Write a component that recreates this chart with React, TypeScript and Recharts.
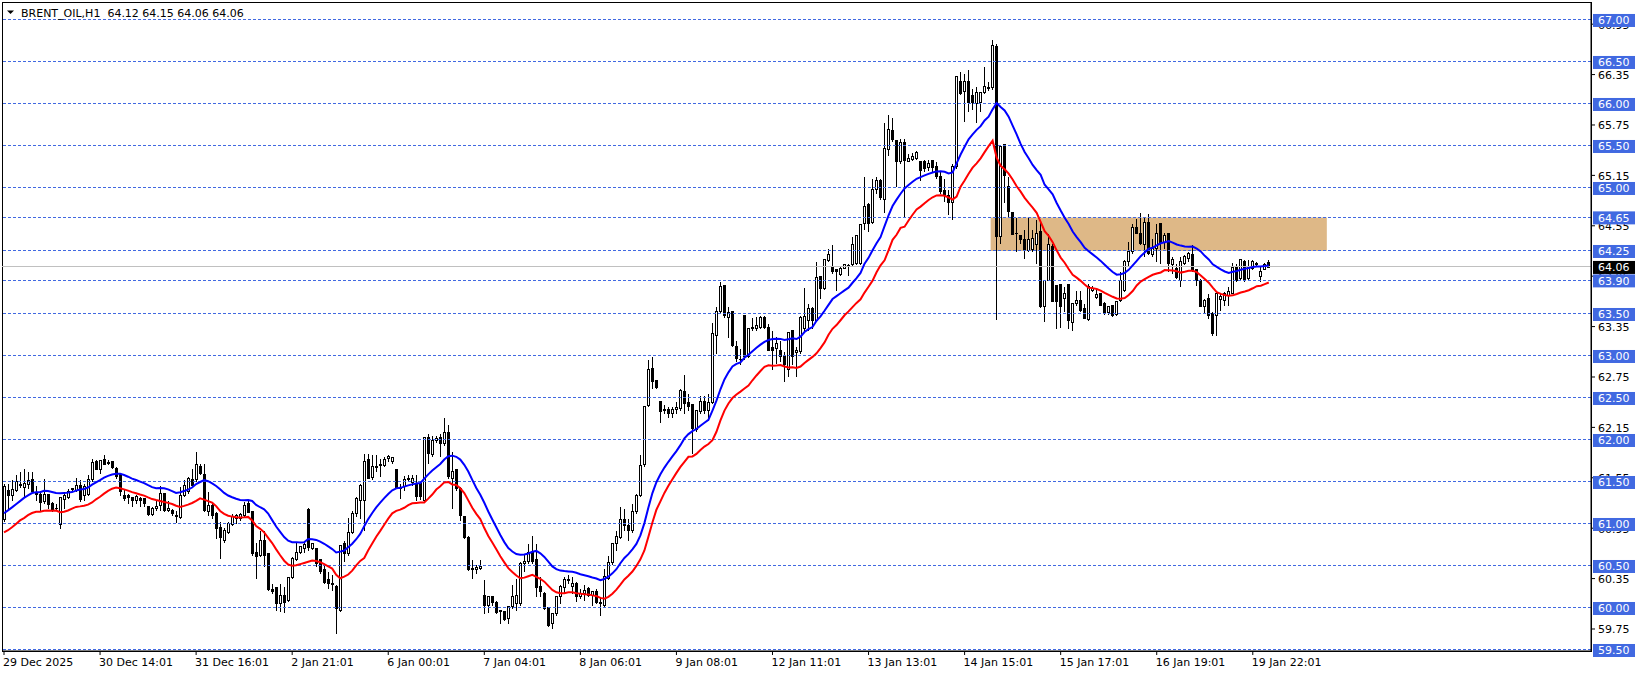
import React from 'react'
import { ComposedChart, Bar, Line, XAxis, YAxis, ReferenceLine, ReferenceArea } from 'recharts'

// hourly candles (oldest first)
const opens = [
  61.06, 61.41, 61.34, 61.40, 61.48, 61.44, 61.48, 61.53, 61.38, 61.36,
  61.27, 61.36, 61.25, 61.19, 61.00, 61.30, 61.32, 61.42, 61.41, 61.46,
  61.35, 61.36, 61.53, 61.75, 61.66, 61.77, 61.74, 61.75, 61.67, 61.59,
  61.35, 61.34, 61.32, 61.29, 61.31, 61.31, 61.21, 61.12, 61.19, 61.23,
  61.37, 61.17, 61.17, 61.11, 61.08, 61.35, 61.39, 61.54, 61.53, 61.69,
  61.60, 61.15, 61.23, 61.13, 60.97, 60.81, 60.91, 61.00, 61.07, 61.07,
  61.11, 61.25, 61.15, 60.67, 60.63, 60.81, 60.65, 60.23, 60.25, 60.06,
  60.15, 60.10, 60.37, 60.58, 60.67, 60.71, 61.18, 60.71, 60.71, 60.58,
  60.46, 60.34, 60.30, 60.26, 59.98, 60.77, 60.65, 60.91, 61.13, 61.29,
  61.29, 61.77, 61.56, 61.68, 61.70, 61.70, 61.79, 61.75, 61.65, 61.44,
  61.45, 61.55, 61.50, 61.49, 61.49, 61.29, 62.04, 61.83, 62.00, 62.04,
  61.97, 62.10, 61.55, 61.65, 61.43, 61.09, 60.85, 60.48, 60.46, 60.48,
  60.16, 60.04, 60.14, 60.07, 59.96, 59.97, 59.88, 60.02, 60.06, 60.06,
  60.54, 60.56, 60.67, 60.58, 60.26, 60.18, 60.01, 59.82, 59.94, 60.14,
  60.25, 60.33, 60.26, 60.30, 60.14, 60.18, 60.24, 60.16, 60.20, 60.07,
  60.04, 60.36, 60.55, 60.77, 60.85, 61.06, 60.99, 60.93, 61.15, 61.35,
  61.71, 62.42, 62.86, 62.72, 62.46, 62.37, 62.37, 62.32, 62.37, 62.38,
  62.58, 62.45, 62.43, 62.13, 62.34, 62.46, 62.36, 62.45, 63.25, 63.53,
  63.84, 63.47, 63.54, 63.12, 62.97, 63.49, 63.00, 63.34, 63.33, 63.35,
  63.46, 63.35, 63.11, 63.09, 63.07, 63.00, 62.84, 63.31, 63.05, 63.06,
  63.33, 63.43, 63.57, 63.43, 63.95, 63.81, 64.14, 64.06, 64.04, 63.98,
  64.05, 64.08, 64.09, 64.11, 64.11, 64.58, 64.81, 64.59, 64.99, 65.09,
  64.87, 65.46, 65.69, 65.57, 65.32, 65.55, 65.32, 65.35, 65.36, 65.32,
  65.32, 65.25, 65.33, 65.26, 65.14, 64.98, 64.92, 64.83, 65.26, 66.27,
  66.15, 66.27, 66.11, 66.01, 66.02, 66.14, 66.19, 66.20, 66.69, 64.43,
  65.52, 65.02, 64.71, 64.46, 64.44, 64.39, 64.26, 64.27, 64.33, 64.49,
  63.59, 63.91, 64.31, 63.85, 63.86, 63.69, 63.86, 63.41, 63.63, 63.67,
  63.57, 63.44, 63.79, 63.70, 63.75, 63.63, 63.52, 63.61, 63.50, 63.67,
  63.78, 64.13, 64.25, 64.54, 64.46, 64.33, 64.59, 64.21, 64.29, 64.58,
  64.36, 64.47, 64.09, 64.05, 63.91, 64.11, 64.17, 64.21, 64.03, 63.91,
  63.59, 63.69, 63.51, 63.49, 63.68, 63.67, 63.73, 63.75, 64.07, 63.93,
  64.13, 63.93, 64.05, 64.11, 63.95, 64.04, 64.12,
]

const highs = [
  61.49, 61.49, 61.53, 61.59, 61.63, 61.67, 61.63, 61.63, 61.47, 61.39,
  61.55, 61.37, 61.27, 61.25, 61.33, 61.39, 61.43, 61.44, 61.56, 61.53,
  61.49, 61.59, 61.79, 61.77, 61.77, 61.83, 61.77, 61.75, 61.69, 61.60,
  61.43, 61.37, 61.33, 61.36, 61.33, 61.32, 61.22, 61.22, 61.30, 61.47,
  61.38, 61.29, 61.19, 61.17, 61.45, 61.53, 61.57, 61.67, 61.87, 61.73,
  61.73, 61.39, 61.25, 61.15, 61.03, 60.97, 61.04, 61.13, 61.13, 61.14,
  61.27, 61.29, 61.17, 60.79, 60.93, 60.93, 60.66, 60.30, 60.25, 60.30,
  60.26, 60.38, 60.62, 60.79, 60.75, 60.79, 61.20, 60.79, 60.73, 60.60,
  60.52, 60.44, 60.40, 60.28, 60.76, 60.81, 61.08, 61.17, 61.33, 61.49,
  61.85, 61.85, 61.83, 61.83, 61.79, 61.81, 61.83, 61.81, 61.65, 61.49,
  61.58, 61.60, 61.59, 61.59, 61.52, 62.04, 62.08, 62.06, 62.06, 62.08,
  62.27, 62.19, 61.87, 61.67, 61.45, 61.11, 60.87, 60.58, 60.52, 60.58,
  60.34, 60.16, 60.15, 60.09, 59.99, 59.98, 60.04, 60.28, 60.36, 60.56,
  60.65, 60.77, 60.87, 60.77, 60.38, 60.20, 60.02, 59.95, 60.16, 60.28,
  60.38, 60.40, 60.38, 60.32, 60.24, 60.28, 60.26, 60.22, 60.24, 60.14,
  60.48, 60.63, 60.79, 60.93, 61.21, 61.19, 61.07, 61.25, 61.37, 61.83,
  62.40, 62.96, 63.00, 62.73, 62.48, 62.43, 62.40, 62.41, 62.46, 62.62,
  62.78, 62.56, 62.44, 62.37, 62.54, 62.54, 62.56, 63.41, 63.59, 63.89,
  63.84, 63.60, 63.55, 63.19, 63.10, 63.49, 63.35, 63.47, 63.48, 63.49,
  63.49, 63.39, 63.31, 63.24, 63.19, 63.06, 63.30, 63.31, 63.12, 63.49,
  63.82, 63.63, 63.59, 64.13, 63.97, 64.17, 64.28, 64.33, 64.05, 64.07,
  64.11, 64.11, 64.43, 64.45, 64.58, 65.14, 64.83, 65.12, 65.14, 65.12,
  65.78, 65.88, 65.85, 65.58, 65.60, 65.60, 65.42, 65.43, 65.45, 65.32,
  65.34, 65.35, 65.34, 65.32, 65.22, 65.12, 64.99, 65.30, 66.33, 66.39,
  66.37, 66.42, 66.19, 66.21, 66.15, 66.45, 66.27, 66.77, 66.72, 65.52,
  65.54, 65.14, 64.73, 64.65, 64.45, 64.51, 64.65, 64.51, 64.63, 64.63,
  63.91, 64.47, 64.35, 63.85, 63.87, 63.83, 63.87, 63.63, 63.79, 63.79,
  63.63, 63.87, 63.85, 63.81, 63.76, 63.65, 63.61, 63.61, 63.67, 64.01,
  64.15, 64.37, 64.58, 64.64, 64.72, 64.66, 64.70, 64.40, 64.58, 64.58,
  64.48, 64.48, 64.19, 64.11, 64.19, 64.21, 64.25, 64.33, 64.05, 63.93,
  63.69, 63.75, 63.53, 63.77, 63.75, 63.77, 63.83, 64.12, 64.11, 64.16,
  64.15, 64.15, 64.15, 64.13, 64.07, 64.12, 64.15,
]

const lows = [
  61.04, 61.17, 61.29, 61.39, 61.44, 61.33, 61.43, 61.38, 61.29, 61.15,
  61.25, 61.19, 61.15, 61.18, 60.95, 61.19, 61.31, 61.40, 61.39, 61.27,
  61.29, 61.35, 61.51, 61.65, 61.61, 61.71, 61.71, 61.67, 61.55, 61.35,
  61.29, 61.25, 61.21, 61.25, 61.21, 61.21, 61.11, 61.11, 61.17, 61.17,
  61.15, 61.15, 61.11, 61.02, 61.07, 61.33, 61.37, 61.44, 61.51, 61.59,
  61.15, 61.11, 61.07, 60.83, 60.60, 60.79, 60.89, 60.99, 61.01, 61.05,
  61.09, 61.14, 60.63, 60.36, 60.62, 60.50, 60.22, 60.18, 59.98, 59.96,
  59.95, 60.08, 60.36, 60.57, 60.65, 60.67, 60.69, 60.70, 60.50, 60.42,
  60.30, 60.24, 60.22, 59.70, 59.96, 60.56, 60.63, 60.89, 61.09, 61.07,
  60.93, 61.55, 61.53, 61.63, 61.57, 61.69, 61.75, 61.73, 61.43, 61.31,
  61.41, 61.51, 61.47, 61.29, 61.30, 61.27, 61.73, 61.81, 61.98, 61.81,
  61.94, 61.55, 61.19, 61.41, 61.05, 60.83, 60.45, 60.36, 60.42, 60.47,
  59.94, 59.95, 60.04, 59.94, 59.82, 59.86, 59.82, 60.00, 59.98, 60.04,
  60.44, 60.54, 60.54, 60.14, 60.14, 59.99, 59.78, 59.76, 59.92, 60.06,
  60.18, 60.30, 60.18, 60.08, 60.12, 60.10, 60.14, 60.04, 60.06, 59.92,
  60.02, 60.34, 60.52, 60.69, 60.83, 60.93, 60.81, 60.91, 61.13, 61.33,
  61.69, 62.40, 62.62, 62.62, 62.22, 62.32, 62.27, 62.27, 62.32, 62.36,
  62.32, 62.36, 61.85, 62.11, 62.32, 62.32, 62.24, 62.44, 63.04, 63.51,
  63.47, 63.23, 63.12, 62.94, 62.90, 62.96, 62.99, 63.31, 63.31, 63.33,
  63.33, 63.07, 62.84, 62.92, 62.94, 62.70, 62.76, 62.90, 62.76, 63.04,
  63.31, 63.31, 63.33, 63.43, 63.69, 63.80, 64.13, 63.99, 63.79, 63.97,
  64.05, 63.97, 64.07, 64.10, 64.09, 64.51, 64.49, 64.58, 64.94, 64.87,
  64.71, 65.39, 65.56, 65.02, 65.30, 64.67, 65.32, 65.33, 65.34, 65.10,
  65.20, 65.22, 65.20, 65.12, 64.94, 64.85, 64.69, 64.63, 65.24, 66.12,
  65.80, 65.92, 65.94, 65.78, 65.92, 66.13, 66.17, 66.18, 63.44, 64.35,
  64.83, 64.67, 64.45, 64.25, 64.35, 64.17, 64.25, 64.25, 64.11, 63.58,
  63.42, 63.90, 63.65, 63.33, 63.35, 63.53, 63.33, 63.31, 63.61, 63.53,
  63.45, 63.43, 63.77, 63.69, 63.61, 63.50, 63.50, 63.48, 63.49, 63.65,
  63.77, 64.07, 64.23, 64.46, 64.33, 64.19, 64.21, 64.19, 64.13, 64.11,
  64.29, 64.01, 63.99, 63.93, 63.83, 64.09, 64.13, 64.01, 63.85, 63.59,
  63.51, 63.45, 63.25, 63.25, 63.55, 63.61, 63.61, 63.78, 63.89, 63.92,
  63.89, 63.92, 64.03, 64.07, 63.89, 64.03, 64.06,
]

const closes = [
  61.45, 61.35, 61.42, 61.51, 61.46, 61.49, 61.52, 61.39, 61.36, 61.26,
  61.36, 61.24, 61.18, 61.19, 61.32, 61.34, 61.39, 61.43, 61.47, 61.30,
  61.45, 61.54, 61.74, 61.66, 61.76, 61.71, 61.73, 61.68, 61.57, 61.39,
  61.31, 61.32, 61.29, 61.33, 61.29, 61.25, 61.12, 61.19, 61.22, 61.37,
  61.17, 61.19, 61.13, 61.09, 61.34, 61.46, 61.55, 61.46, 61.71, 61.61,
  61.17, 61.23, 61.11, 60.95, 60.85, 60.93, 61.01, 61.10, 61.11, 61.12,
  61.23, 61.14, 60.65, 60.62, 60.81, 60.63, 60.23, 60.20, 60.06, 60.16,
  60.07, 60.37, 60.60, 60.67, 60.74, 60.76, 60.73, 60.77, 60.54, 60.44,
  60.31, 60.30, 60.28, 60.00, 60.75, 60.65, 60.91, 61.13, 61.31, 61.47,
  61.75, 61.55, 61.69, 61.69, 61.71, 61.77, 61.81, 61.80, 61.43, 61.43,
  61.54, 61.53, 61.55, 61.33, 61.33, 62.04, 61.85, 62.00, 62.02, 61.96,
  62.09, 61.57, 61.63, 61.43, 61.11, 60.85, 60.46, 60.47, 60.49, 60.50,
  60.03, 60.14, 60.07, 59.95, 59.98, 59.87, 60.02, 60.14, 60.16, 60.54,
  60.56, 60.67, 60.56, 60.25, 60.20, 60.00, 59.80, 59.94, 60.14, 60.26,
  60.34, 60.34, 60.30, 60.14, 60.18, 60.22, 60.16, 60.20, 60.07, 60.06,
  60.38, 60.55, 60.77, 60.86, 61.06, 60.99, 60.93, 61.15, 61.35, 61.70,
  62.40, 62.85, 62.70, 62.63, 62.34, 62.36, 62.32, 62.37, 62.39, 62.60,
  62.44, 62.40, 62.14, 62.36, 62.46, 62.36, 62.45, 63.27, 63.53, 63.83,
  63.49, 63.52, 63.13, 62.98, 62.97, 63.00, 63.33, 63.33, 63.37, 63.46,
  63.35, 63.07, 63.07, 63.15, 63.00, 62.90, 63.29, 63.00, 63.07, 63.47,
  63.48, 63.57, 63.43, 63.94, 63.81, 64.15, 64.22, 64.01, 64.01, 64.05,
  64.10, 64.08, 64.33, 64.44, 64.57, 64.79, 64.58, 64.99, 65.10, 64.89,
  65.47, 65.70, 65.58, 65.32, 65.55, 65.33, 65.36, 65.38, 65.43, 65.22,
  65.24, 65.30, 65.25, 65.14, 64.96, 64.92, 64.83, 65.26, 66.33, 66.13,
  66.27, 66.02, 66.02, 66.14, 66.14, 66.21, 66.20, 66.70, 64.43, 65.50,
  65.16, 64.73, 64.45, 64.46, 64.39, 64.27, 64.39, 64.40, 64.47, 63.60,
  63.91, 64.33, 63.65, 63.65, 63.59, 63.75, 63.43, 63.63, 63.67, 63.55,
  63.45, 63.83, 63.81, 63.74, 63.61, 63.52, 63.60, 63.49, 63.65, 63.91,
  64.13, 64.25, 64.54, 64.46, 64.35, 64.59, 64.23, 64.29, 64.46, 64.35,
  64.44, 64.11, 64.15, 63.94, 64.13, 64.19, 64.23, 64.03, 63.91, 63.59,
  63.67, 63.49, 63.27, 63.75, 63.71, 63.75, 63.77, 64.06, 63.91, 64.15,
  63.91, 64.07, 64.13, 64.09, 64.01, 64.09, 64.06,
]

const dateTicks = [0, 24, 48, 72, 96, 120, 144, 168, 192, 216, 240, 264, 288, 312]
const dateLabels = [
  '29 Dec 2025', '30 Dec 14:01', '31 Dec 16:01', '2 Jan 21:01', '6 Jan 00:01',
  '7 Jan 04:01', '8 Jan 06:01', '9 Jan 08:01', '12 Jan 11:01', '13 Jan 13:01',
  '14 Jan 15:01', '15 Jan 17:01', '16 Jan 19:01', '19 Jan 22:01',
]

const priceTicks = [59.75, 60.35, 60.95, 61.55, 62.15, 62.75, 63.35, 63.95, 64.55, 65.15, 65.75, 66.35, 66.95]
const levels = [67.0, 66.5, 66.0, 65.5, 65.0, 64.65, 64.25, 63.9, 63.5, 63.0, 62.5, 62.0, 61.5, 61.0, 60.5, 60.0, 59.5]
const lastPrice = 64.06
const zoneBars = [247, 330]
const zonePrices = [64.25, 64.65]
const priceRange = [59.488, 67.214]

// moving average values just before the first visible bar (high, low)
const maSeeds = [61.09, 60.885]
const MA_PERIOD = 20
const SLOTS = 397

const FONT = '"DejaVu Sans", Verdana, sans-serif'
const BLUE = '#4169e1'

// exponential moving average
function ema(values: number[], seed: number, period: number) {
  const k = 2 / (period + 1)
  let prev = seed
  return values.map((v) => {
    prev = prev + k * (v - prev)
    return prev
  })
}

const maHigh = ema(highs, maSeeds[0], MA_PERIOD)
const maLow = ema(lows, maSeeds[1], MA_PERIOD)

const data = Array.from({ length: SLOTS }, (_, i) =>
  i < closes.length
    ? { i, o: opens[i], h: highs[i], l: lows[i], c: closes[i], up: maHigh[i], dn: maLow[i] }
    : { i },
)

function Candle(props: any) {
  const { x, y, width, height, payload } = props
  if (!payload || payload.h == null) return null
  const { o, h, l, c } = payload
  const top = Math.min(y, y + height)
  const bot = Math.max(y, y + height)
  const span = h - l
  const py = (v: number) => (span > 0 ? top + ((h - v) / span) * (bot - top) : top)
  const snap = (v: number) => Math.round(v) + 0.5
  const cx = Math.floor(x + width / 2) + 0.5
  const yo = snap(py(o))
  const yc = snap(py(c))
  const bTop = Math.min(yo, yc)
  const bBot = Math.max(yo, yc)
  return (
    <g shapeRendering="crispEdges">
      <line x1={cx} x2={cx} y1={snap(py(h))} y2={snap(py(l))} stroke="#000" />
      {bBot - bTop < 1 ? (
        <line x1={cx - 1.5} x2={cx + 1.5} y1={bTop} y2={bTop} stroke="#000" />
      ) : (
        <rect x={cx - 1} y={bTop} width={2} height={bBot - bTop} fill={c >= o ? '#fff' : '#000'} stroke="#000" />
      )}
    </g>
  )
}

function PriceTick(props: any) {
  const { x, y, payload } = props
  const v = payload.value
  const label = v.toFixed(2)
  const boxed = levels.includes(v) || v === lastPrice
  if (boxed) {
    return (
      <g>
        <rect x={x + 2} y={y - 6} width={42} height={13} fill={v === lastPrice ? '#000' : BLUE} />
        <text x={x + 7} y={y + 4.5} fill="#fff" fontSize={11} fontFamily={FONT}>
          {label}
        </text>
      </g>
    )
  }
  return (
    <g>
      <line x1={x} x2={x + 4} y1={y} y2={y} stroke="#000" />
      <text x={x + 7} y={y + 4.5} fill="#000" fontSize={11} fontFamily={FONT}>
        {label}
      </text>
    </g>
  )
}

function DateTick(props: any) {
  const { x, y, payload } = props
  const k = dateTicks.indexOf(payload.value)
  return (
    <g>
      <line x1={x} x2={x} y1={y} y2={y + 4} stroke="#000" />
      <text x={x - 1} y={y + 15} fill="#000" fontSize={11} fontFamily={FONT} textAnchor="start">
        {dateLabels[k]}
      </text>
    </g>
  )
}

export default function App() {
  const n = closes.length - 1
  const title = `BRENT_OIL,H1  ${opens[n].toFixed(2)} ${highs[n].toFixed(2)} ${lows[n].toFixed(2)} ${closes[n].toFixed(2)}`
  return (
    <div style={{ position: 'relative', width: 1641, height: 675, background: '#fff' }}>
      <style>{'body{margin:0;background:#fff}'}</style>
      <ComposedChart
        width={1641}
        height={675}
        data={data}
        margin={{ top: 2, right: 0, bottom: 0, left: 2 }}
        barCategoryGap={0}
      >
        <XAxis
          dataKey="i"
          type="category"
          height={24}
          ticks={dateTicks}
          interval={0}
          tick={<DateTick />}
          tickLine={false}
          tickSize={0}
          tickMargin={0}
          axisLine={{ stroke: '#000' }}
        />
        <YAxis
          orientation="right"
          type="number"
          width={50}
          domain={priceRange}
          allowDataOverflow
          ticks={[...priceTicks, ...levels, lastPrice]}
          interval={0}
          tick={<PriceTick />}
          tickLine={false}
          tickSize={0}
          tickMargin={0}
          axisLine={{ stroke: '#000' }}
        />
        <ReferenceArea
          x1={zoneBars[0]}
          x2={zoneBars[1]}
          y1={zonePrices[0]}
          y2={zonePrices[1]}
          fill="#deb887"
          fillOpacity={1}
          stroke="none"
        />
        {levels.map((v) => (
          <ReferenceLine key={v} y={v} stroke={BLUE} strokeDasharray="3 2" shapeRendering="crispEdges" />
        ))}
        <ReferenceLine y={lastPrice} stroke="#c0c0c0" shapeRendering="crispEdges" />
        <Bar dataKey={(d: any) => (d.h == null ? null : [d.l, d.h])} shape={(p: any) => <Candle {...p} />} isAnimationActive={false} />
        <Line dataKey="up" stroke="#0000ff" strokeWidth={2} dot={false} activeDot={false} isAnimationActive={false} />
        <Line dataKey="dn" stroke="#ff0000" strokeWidth={2} dot={false} activeDot={false} isAnimationActive={false} />
        <ReferenceArea
          x1={0}
          x2={SLOTS - 1}
          y1={priceRange[0]}
          y2={priceRange[1]}
          fill="none"
          stroke="#000"
          shapeRendering="crispEdges"
        />
      </ComposedChart>
      <svg width={300} height={22} style={{ position: 'absolute', left: 0, top: 0, pointerEvents: 'none' }}>
        <polygon points="7,10.5 14,10.5 10.5,14" fill="#000" />
        <text x={21} y={16.5} fontSize={11} fontFamily={FONT} fill="#000" style={{ whiteSpace: 'pre' }}>
          {title}
        </text>
      </svg>
    </div>
  )
}
